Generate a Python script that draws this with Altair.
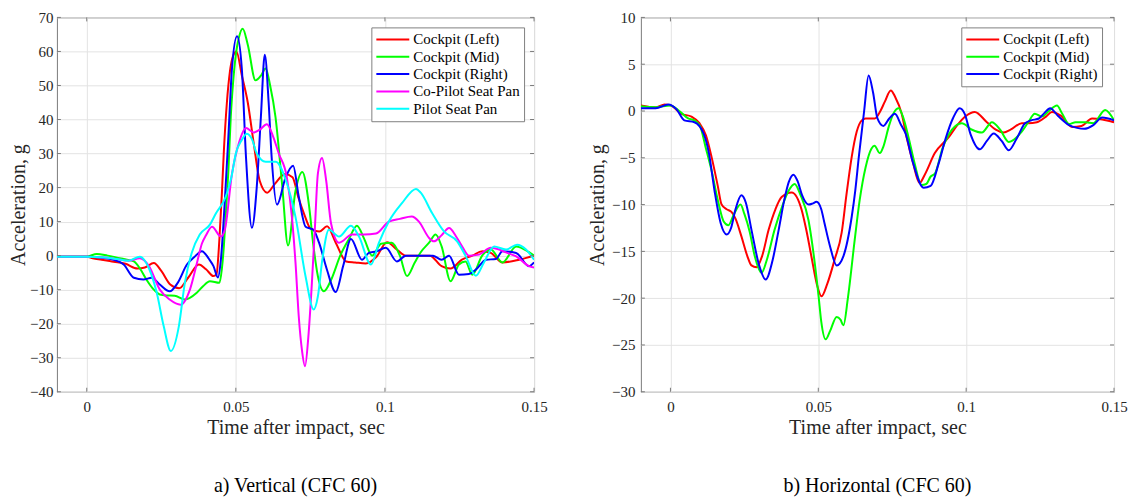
import altair as alt
import pandas as pd

# ---------------- data: a) Vertical ----------------
names_v = ["Cockpit (Left)", "Cockpit (Mid)", "Cockpit (Right)", "Co-Pilot Seat Pan", "Pilot Seat Pan"]
colors_v = ["#ff0000", "#00ff00", "#0000ff", "#ff00ff", "#00ffff"]

red_v_t = [-10, 0, 2, 5, 9, 13, 17, 19.5, 22.5, 25, 28, 31, 34, 37.6, 40, 42.5, 43.5, 44.5, 45.3, 46, 47, 48, 49, 50.2,
           52, 54, 56, 58, 60.5, 63, 66.5, 69, 71, 73, 75, 78, 80.6, 83.5, 87, 90, 93.6, 97, 100.7, 104, 107, 111, 115,
           119, 122, 125.8, 129.3, 132.6, 135.5, 139.4, 145, 150]
red_v_y = [-0.3, -0.3, -0.8, -1.2, -1.8, -2.4, -3.8, -3.5, -2.2, -4.5, -8.5, -9.6, -6.5, -2.6, -4, -6, -5.5, 5, 18, 31,
           45, 54, 58.5, 60, 53, 45, 33, 22, 18.5, 21, 24, 23, 17, 12, 8, 7.1, 8.6, 3.8, -1.7, -2, -2.3, -0.5, 3.9, 1.8,
           0, 0, 0, -3.1, -3.8, -1.2, 0, 1.3, 0.8, -2, -1.2, 0]

green_v_t = [-10, 0, 3.4, 7, 12.4, 15.8, 18, 20, 22.5, 24.5, 26.8, 29.5, 32.9, 36.9, 39, 41.3, 44.5, 45.3, 46, 46.6,
             47.5, 48.3, 49, 50, 51, 52.3, 54, 56.6, 58.5, 60, 61.5, 63.3, 65.5, 67.5, 70, 72.3, 74.5, 76, 77.5, 79.5,
             82, 85, 88, 90.6, 93, 95.7, 98.7, 102.3, 105, 107.4, 110, 112, 114.8, 117, 119, 122, 124.8, 127, 129.3,
             132.6, 135.5, 139.4, 144, 148.3, 150]
green_v_y = [-0.3, -0.3, 0.5, 0, -1, -1.7, -4, -7, -10, -11.4, -11.7, -11.8, -12.9, -10.9, -9, -7.5, -8, -4, 3, 11.4,
             25, 40.8, 50, 59, 64, 66.7, 62, 51.5, 53, 55, 50, 40.7, 21, 3, 19, 24.6, 15, 3, -6, -10.5, -7, 0, 5, 8.8,
             5, 0, 3.5, 3.8, 0, -6, -2, 1, 3.8, 6.2, 2.7, -7.5, -2.6, -1.7, -5.6, 0, 1.8, -2, 2.7, 1, 0]

blue_v_t = [-10, 0, 5, 9, 12.4, 15.8, 19, 21.8, 24.5, 27.8, 30.5, 33.6, 36, 38.6, 41, 42.5, 44, 45, 46.3, 47.5, 48.7,
            50.4, 52, 53.4, 55.4, 57, 58.4, 59.7, 61, 62, 63.8, 66.7, 69.2, 71.1, 73.4, 76, 77.9, 80.5, 83.5, 86, 88.6,
            92.3, 94.6, 97, 100.3, 104, 107, 111, 116, 119, 121.5, 124.8, 128.2, 130.5, 133.9, 137.2, 139.4, 144,
            148.3, 150]
blue_v_y = [-0.3, -0.3, -0.6, -1.2, -2.6, -6.5, -7, -6.5, -8.5, -10.5, -8, -2.6, -0.5, 1.3, -1, -3.1, -6.4, -1, 16,
            35, 55, 64.5, 55, 29, 8.2, 20, 40.8, 59, 45, 29, 15, 23, 26.4, 17.3, 8.5, 7.6, 3.8, -4, -10.7, -3, 4.9,
            -1.2, 0.8, 1.2, 2.3, -1.7, 0, 0, 0, -1.2, 0, -5.6, -5.4, -4.1, -1.2, -1, 1.3, 0.8, -3.1, -2]

mag_v_t = [-10, 0, 5, 10, 14, 17.8, 20.8, 24.5, 27.8, 31.5, 34.6, 37, 38.6, 40, 42, 45, 46.3, 48.7, 51, 53.4, 56, 58,
           60.4, 62.5, 64.4, 67.1, 68.8, 70, 71.1, 72.2, 73.2, 74.3, 75.5, 76.5, 77.5, 78.9, 80.3, 81.9, 84.6, 89, 93,
           97, 101.3, 105, 109, 111.4, 114.8, 116.4, 119, 121.5, 123.8, 126, 128.2, 131.5, 135.5, 138.3, 141, 144,
           148.3, 150]
mag_v_y = [-0.3, -0.3, -0.5, -1, -1.5, -0.8, -3, -10, -12.9, -14.4, -10, -2, 3.5, 6, 8.5, 5.6, 7.6, 24, 33, 37.5,
           36.2, 37, 38.6, 35, 30, 23, 11.4, -2, -17.9, -28, -32.5, -24, -8, 8, 24, 28.7, 22, 9.6, 3.8, 6.2, 6.2, 6.5,
           10, 10.8, 11.5, 10, 5.2, 4.2, 6, 8.1, 5.7, 2.5, 0, 0.3, 2.3, 1.8, 0.8, -0.2, -3.1, -3.5]

cyan_v_t = [-10, 0, 5, 10, 14, 17.8, 19.5, 21, 23.5, 25.8, 28.2, 30.9, 32.9, 35.2, 37.9, 41.3, 43.3, 46.6, 48.5, 50,
            52, 53.7, 55.5, 57, 60, 63.4, 66.7, 70, 73.4, 76.1, 77.5, 79, 81.2, 84.6, 88.6, 91.3, 95.3, 98, 101.3,
            105.7, 110.4, 112, 115.8, 119.8, 124.2, 127, 130.5, 133.2, 136.6, 140.6, 144.3, 147.3, 150]
cyan_v_y = [-0.3, -0.3, -0.5, -1, -1.5, -0.3, -1.5, -4, -11, -20.7, -28, -20.7, -8, 0.8, 6.2, 9.1, 12.4, 17.3, 23,
            30, 34, 35.8, 34, 30, 27.6, 27.6, 22.3, 11.4, -6.2, -15.8, -12, -1.2, 7.6, 5.6, 8.8, 5.6, -2.6, 3.8, 10,
            15.4, 19.6, 18.5, 12.5, 7.1, 4.2, 0, -5.9, -2, 2.7, 1.8, 3.2, 1.8, -1.2]

# ---------------- data: b) Horizontal ----------------
names_h = ["Cockpit (Left)", "Cockpit (Mid)", "Cockpit (Right)"]
colors_h = ["#ff0000", "#00ff00", "#0000ff"]

red_h_t = [-10, -5, -2, 0, 3.7, 7.1, 9.8, 12, 13.9, 16, 17.3, 19, 20.7, 22, 24, 26, 27.4, 29.1, 31, 33.2, 35.5, 37.6,
           41, 44.4, 46, 47.7, 49.5, 51.1, 53, 55.5, 57.9, 59.5, 61.3, 63, 64.7, 66, 69.1, 71, 72.5, 74.5, 76, 78.2,
           80, 82, 84.2, 86, 89.4, 94.1, 97, 100, 102.9, 107, 110, 112.7, 115, 118.8, 121, 123.9, 127, 129, 132,
           135.8, 139, 142.6, 146, 150]
red_h_y = [0.6, 0.4, 0.7, 0.6, -0.3, -0.6, -1.3, -2.6, -4.9, -8, -10, -10.5, -10.8, -11.5, -13.4, -15.5, -16.5, -16.7,
           -15.5, -12.7, -10.5, -9.2, -8.7, -10.6, -12.8, -15.6, -18.5, -19.8, -18.5, -15.9, -13, -9, -4.9, -2.2, -1,
           -0.8, -0.8, 0, 1, 2.2, 1.5, -0.3, -3, -5.5, -7.7, -6.8, -4.5, -2.8, -1.5, -0.5, -0.1, -1.2, -2, -2.3, -2,
           -1.3, -1.3, -1.2, -0.6, -0.1, -0.5, -1.7, -1.6, -0.8, -0.9, -1.2]

green_h_t = [-10, -5, 0, 3, 6, 8, 10, 12, 14, 16, 18, 19.6, 21.5, 23.7, 25, 26.8, 28.5, 30.8, 32.5, 35.2, 38, 40, 42,
             44, 46.7, 48.5, 50.1, 51, 52.5, 54, 56.2, 57.5, 58.5, 60, 62.3, 64, 66, 68, 69, 70.8, 72, 73.8, 75.5,
             77.2, 78.5, 80.5, 82.5, 84.9, 86.5, 88, 89.4, 92, 95.2, 98.5, 102, 105.3, 108.7, 111.5, 114.4, 118.8,
             121, 123.2, 125.6, 128, 130.7, 132.5, 134.8, 137, 140.3, 143, 147, 150]
green_h_y = [0.5, 0.4, 0.6, 0, -0.8, -1, -1.6, -4, -6.5, -9.5, -11.8, -12.2, -11, -10, -11, -12.9, -15.5, -17.3, -16,
             -12.7, -10, -8.5, -7.8, -9, -11.7, -15.5, -19.8, -22.5, -24.4, -23.5, -22, -22.3, -22.9, -20, -13.8,
             -9.5, -6, -4, -3.7, -4.5, -3.8, -1.7, -0.2, 0.3, -0.5, -2.8, -5.5, -7.9, -7.8, -7, -6.7, -4, -2, -1.3,
             -2, -2.3, -1.2, -2, -3.3, -2.2, -1.2, -0.3, -0.6, 0, 0.6, -0.3, -1.4, -1.2, -1.2, -1.3, 0.1, -1]

blue_h_t = [-10, -5, -0.7, 2, 4.7, 8.1, 11.2, 13, 14.9, 17, 19, 20.5, 22, 24, 25.5, 27.4, 30, 32.2, 34.5, 36.6, 38.5,
            40, 41.6, 43, 44.5, 46.7, 48, 49.4, 51, 52.1, 54, 56.2, 58.5, 61.3, 62.5, 63.7, 65.5, 67, 68.5, 70, 72,
            74, 75.9, 78, 79.5, 82, 85.6, 88, 90.7, 93, 95.5, 97.8, 99.5, 101.5, 104.6, 107, 109.3, 112, 114.4, 117,
            119.9, 122, 124.6, 126.5, 128.4, 131, 134.8, 137.5, 139.9, 143, 146, 150]
blue_h_y = [0.3, 0.3, 0.7, 0.2, -1, -1.2, -2.4, -4.5, -8.5, -12, -13.2, -12.5, -10.5, -9, -9.8, -12.7, -16.5, -18,
            -16, -12.7, -9.5, -7.6, -6.8, -7.5, -9, -10, -9.9, -9.7, -10.5, -12, -14.5, -16.5, -15.5, -11.3, -8.5,
            -4.9, 0, 3.8, 2, -0.8, -1.6, -0.8, -0.3, -1.5, -2.4, -5.5, -8.2, -8, -5.6, -3, -0.8, 0.3, -0.3, -2.5,
            -4.1, -3.2, -2.4, -3.2, -4.2, -3, -1.3, -1, -0.8, -0.2, 0.3, -0.5, -1.5, -1.8, -1.9, -1.5, -0.7, -1]

x_ticks = [0, 0.05, 0.1, 0.15]
y_ticks_v = [-40, -30, -20, -10, 0, 10, 20, 30, 40, 50, 60, 70]
y_ticks_h = [-30, -25, -20, -15, -10, -5, 0, 5, 10]


def make_df(series):
    rows = []
    for name, ts, ys in series:
        for i, (t, y) in enumerate(zip(ts, ys)):
            rows.append({"series": name, "t": t / 1000.0, "acc": y, "i": i})
    return pd.DataFrame(rows)


df_v = make_df([(names_v[0], red_v_t, red_v_y), (names_v[1], green_v_t, green_v_y),
                (names_v[2], blue_v_t, blue_v_y), (names_v[3], mag_v_t, mag_v_y),
                (names_v[4], cyan_v_t, cyan_v_y)])
df_h = make_df([(names_h[0], red_h_t, red_h_y), (names_h[1], green_h_t, green_h_y),
                (names_h[2], blue_h_t, blue_h_y)])

FONT = "Liberation Serif"
GRID = "#e3e3e3"
TXT = "#262626"
FRAME = "#7a7a7a"
H = 375
TL = 4  # inner tick length


def panel(df, names, colors, ydom, yticks, caption, width, lx, ly, lab_pad, title_pad):
    xscale = alt.Scale(domain=[-0.01, 0.15], nice=False)
    yscale = alt.Scale(domain=ydom, nice=False)
    x = alt.X("t:Q", scale=xscale,
              axis=alt.Axis(values=x_ticks, format=".3~g", title="Time after impact, sec", ticks=False,
                            domain=False, gridColor=GRID, labelPadding=8, titlePadding=3,
                            labelFlush=False, labelFont=FONT, titleFont=FONT))
    y = alt.Y("acc:Q", scale=yscale,
              axis=alt.Axis(values=yticks, title="Acceleration, g", ticks=False, domain=False,
                            gridColor=GRID, labelPadding=lab_pad, titlePadding=title_pad,
                            labelFlush=False, labelFont=FONT, titleFont=FONT))
    color = alt.Color("series:N", sort=names,
                      scale=alt.Scale(domain=names, range=colors),
                      legend=alt.Legend(title=None, orient="none", legendX=lx, legendY=ly,
                                        symbolType="stroke", symbolSize=1089, symbolStrokeWidth=2,
                                        clipHeight=16, labelFont=FONT, labelFontSize=15,
                                        labelColor="#000000", strokeColor="#808080",
                                        fillColor="#ffffff", padding=4, rowPadding=1.4, labelOffset=3))
    lines = alt.Chart(df).mark_line(strokeWidth=2, interpolate="monotone", clip=True).encode(
        x=x, y=y, color=color, order="i:Q", detail="series:N"
    )

    xt = pd.DataFrame({"t": x_ticks})
    yt = pd.DataFrame({"acc": yticks})
    tick_top = alt.Chart(xt).mark_rule(color=FRAME, strokeWidth=1).encode(
        x=x, y=alt.value(0), y2=alt.value(TL))
    tick_bot = alt.Chart(xt).mark_rule(color=FRAME, strokeWidth=1).encode(
        x=x, y=alt.value(H - TL), y2=alt.value(H))
    tick_left = alt.Chart(yt).mark_rule(color=FRAME, strokeWidth=1).encode(
        y=y, x=alt.value(0), x2=alt.value(TL))
    tick_right = alt.Chart(yt).mark_rule(color=FRAME, strokeWidth=1).encode(
        y=y, x=alt.value(width - TL), x2=alt.value(width))

    chart = alt.layer(lines, tick_top, tick_bot, tick_left, tick_right).properties(
        width=width, height=H,
        title=alt.TitleParams(caption, orient="bottom", anchor="middle", frame="group",
                              fontSize=20, fontWeight="normal", font=FONT, color="#000000", offset=38)
    )
    return chart


left = panel(df_v, names_v, colors_v, [-40, 70], y_ticks_v, "a) Vertical (CFC 60)", 478, 315, 10, 4, 1)
right = panel(df_h, names_h, colors_h, [-30, 10], y_ticks_h, "b) Horizontal (CFC 60)", 474, 321, 10, 6, 4)

chart = alt.hconcat(left, right, spacing=39).resolve_scale(color="independent").properties(
    padding={"left": 0, "top": 1, "right": 0, "bottom": 0}
).configure(
    font=FONT
).configure_view(
    stroke=FRAME, strokeWidth=1
).configure_axis(
    labelFont=FONT, titleFont=FONT, labelFontSize=15, titleFontSize=20, titleFontWeight="normal",
    labelColor=TXT, titleColor=TXT, gridWidth=1
).configure_legend(
    labelFont=FONT
)

chart.save("out.html", embed_options={"renderer": "svg", "actions": False})
